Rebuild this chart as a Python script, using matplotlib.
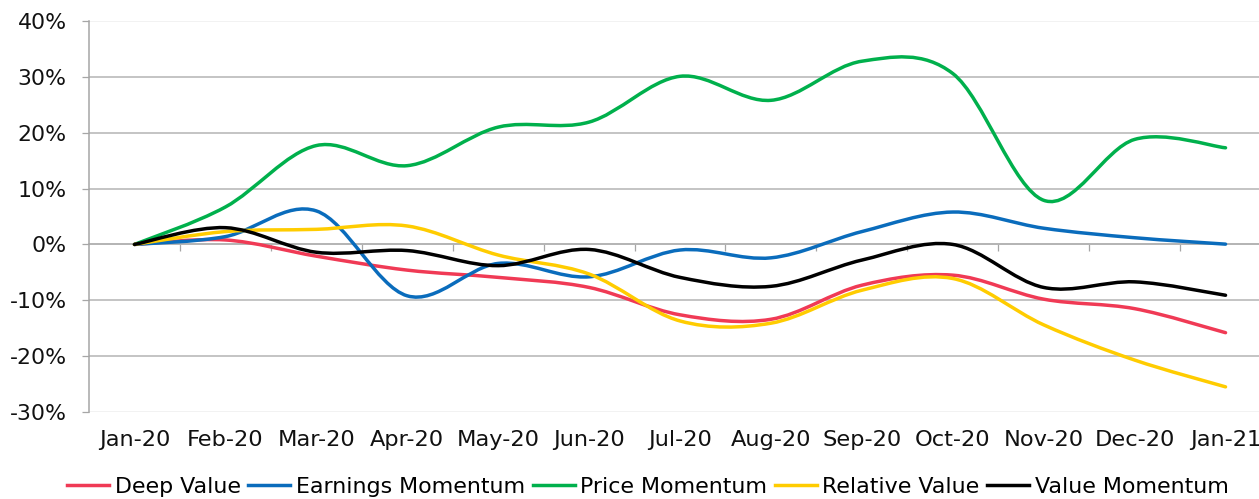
import numpy as np
import matplotlib
matplotlib.use("Agg")
import matplotlib.pyplot as plt
from matplotlib.path import Path
from matplotlib.patches import PathPatch
from matplotlib.lines import Line2D
from matplotlib.ticker import FuncFormatter

# ---------------- data ----------------
months = ["Jan-20", "Feb-20", "Mar-20", "Apr-20", "May-20", "Jun-20", "Jul-20",
          "Aug-20", "Sep-20", "Oct-20", "Nov-20", "Dec-20", "Jan-21"]

deep_value = [0.0, 0.8, -2.1, -4.6, -5.9, -7.7, -12.6, -13.4, -7.3, -5.5, -9.8, -11.5, -15.8]
earnings_momentum = [0.0, 1.4, 6.0, -9.2, -3.4, -5.8, -1.0, -2.4, 2.3, 5.8, 2.9, 1.2, 0.05]
price_momentum = [0.0, 6.7, 17.7, 14.1, 21.0, 21.9, 30.1, 25.8, 32.8, 30.6, 7.9, 18.8, 17.3]
relative_value = [0.0, 2.3, 2.7, 3.3, -1.9, -5.3, -13.7, -14.1, -8.2, -6.1, -14.4, -20.7, -25.5]
value_momentum = [0.0, 3.0, -1.4, -1.1, -3.8, -0.9, -5.9, -7.5, -2.8, 0.0, -7.7, -6.7, -9.1]

series_names = ["Deep Value", "Earnings Momentum", "Price Momentum", "Relative Value", "Value Momentum"]
series_values = [deep_value, earnings_momentum, price_momentum, relative_value, value_momentum]
series_colors = ["#F03A55", "#0A6CBC", "#00B04C", "#FFCC00", "#000000"]

y_ticks = [-30, -20, -10, 0, 10, 20, 30, 40]


def smooth_path(xs, ys):
    """Excel-like smoothed line: cubic Bezier segments through each point."""
    pts = np.column_stack([xs, ys]).astype(float)
    n = len(pts)
    verts = [tuple(pts[0])]
    codes = [Path.MOVETO]
    for i in range(n - 1):
        p0 = pts[max(i - 1, 0)]
        p1 = pts[i]
        p2 = pts[i + 1]
        p3 = pts[min(i + 2, n - 1)]
        c1 = p1 + (p2 - p0) / 6.0
        c2 = p2 - (p3 - p1) / 6.0
        verts += [tuple(c1), tuple(c2), tuple(p2)]
        codes += [Path.CURVE4] * 3
    return Path(verts, codes)


W, H = 1259, 499
fig = plt.figure(figsize=(W / 100, H / 100), dpi=100)
plt.rcParams['font.family'] = ['DejaVu Sans']

# axes: the plot area extends slightly past the right edge of the image
left_px, right_px, top_px, bot_px = 89, 1271, 21, 412
ax = fig.add_axes([left_px / W, (H - bot_px) / H, (right_px - left_px) / W, (bot_px - top_px) / H])

x = np.arange(len(months))
ax.set_xlim(-0.5, len(months) - 0.5)
ax.set_ylim(min(y_ticks), max(y_ticks))

grid_col = "#B4B4B4"
ax.set_yticks(y_ticks)
ax.yaxis.set_major_formatter(FuncFormatter(lambda v, p: f"{v:.0f}%"))
ax.grid(axis="y", color=grid_col, linewidth=1.1)
gl = ax.yaxis.get_gridlines()
gl[0].set_color("#EFEFEF")
gl[-1].set_color("#EFEFEF")
ax.set_axisbelow(True)

for s in ["top", "right", "bottom"]:
    ax.spines[s].set_visible(False)
ax.spines["left"].set_color("#A6A6A6")
ax.spines["left"].set_linewidth(1.1)
ax.tick_params(axis="y", direction="out", length=5, width=0.9, color="#A6A6A6",
               labelsize=15.8, pad=11, labelcolor="#111111")

# category labels at bottom
ax.set_xticks(x)
ax.set_xticklabels(months)
ax.tick_params(axis="x", length=0, labelsize=16.2, pad=13, labelcolor="#111111")

# horizontal (category) axis line crossing at 0 with tick marks between categories
zero_loc = (0 - min(y_ticks)) / (max(y_ticks) - min(y_ticks))
sec = ax.secondary_xaxis(zero_loc)
sec.set_xticks(x[:-1] + 0.5)
sec.set_xticklabels([])
sec.spines["bottom"].set_color("#A6A6A6")
sec.spines["bottom"].set_linewidth(1.1)
sec.tick_params(axis="x", direction="out", length=5, width=0.9, color="#A6A6A6")

handles = []
for name, vals, col in zip(series_names, series_values, series_colors):
    patch = PathPatch(smooth_path(x, vals), facecolor="none", edgecolor=col,
                      linewidth=2.5, capstyle="round", joinstyle="round", zorder=3)
    ax.add_patch(patch)
    handles.append(Line2D([], [], color=col, linewidth=2.5, label=name))

fig.legend(handles=handles, loc="center", bbox_to_anchor=(648 / W, (H - 487) / H),
           ncol=5, frameon=False, fontsize=15.9, handlelength=1.9,
           handletextpad=0.25, columnspacing=0.35, borderaxespad=0, borderpad=0)

fig.savefig("out.png", dpi=100)
